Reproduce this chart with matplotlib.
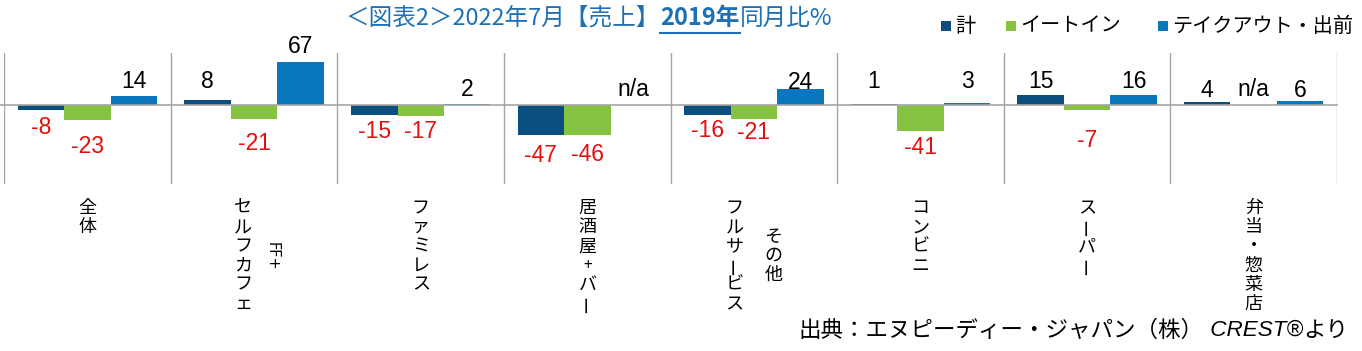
import numpy as np
import matplotlib
matplotlib.use("Agg")
import matplotlib.pyplot as plt
from matplotlib.patches import Rectangle
from matplotlib.lines import Line2D

plt.rcParams['font.family'] = ['Noto Sans CJK JP', 'DejaVu Sans']

# ---------------- data ----------------
categories = ["全体", "FF+セルフカフェ", "ファミレス", "居酒屋+バー",
              "その他フルサービス", "コンビニ", "スーパー", "弁当・惣菜店"]
# label columns as drawn (left column first); second column is the small side note
label_main = ["全体", "セルフカフェ", "ファミレス", "居酒屋+バー",
              "フルサービス", "コンビニ", "スーパー", "弁当・惣菜店"]
label_side = ["", "FF+", "", "", "その他", "", "", ""]

series_names = ["計", "イートイン", "テイクアウト・出前"]
total = [-8, 8, -15, -47, -16, 1, 15, 4]
eatin = [-23, -21, -17, -46, -21, -41, -7, np.nan]
takeout = [14, 67, 2, np.nan, 24, 3, 16, 6]

title_parts = ["＜図表2＞2022年7月【売上】", "2019年", "同月比%"]
source_parts = ["出典：エヌピーディー・ジャパン（株）", " CREST®", "より"]

# ---------------- style ----------------
colors = ["#0B4F7F", "#86C341", "#0A77BD"]
title_color = "#1E70B5"
neg_color = "#E31010"
grid_color = "#A6A6A6"
num_family = ['Liberation Sans', 'DejaVu Sans']
num_fs = 16.5
# label distance (px) from bar end to label centre, as placed in the original
lab_px = [
    [17, 18, 17, 20, 15, 23, 14, 12],
    [27, 24.5, 16, 20, 14, 16.5, 30.5, 15],
    [14, 15, 14, 15, 7, 21.5, 13, 11],
]

W, H = 1362, 351
fig = plt.figure(figsize=(W / 100, H / 100), dpi=100)
ax = fig.add_axes([4.3 / W, 1 - 184 / H, (1337 - 4.3) / W, 131 / H])
ax.set_xlim(-0.5, len(categories) - 0.5)
ax.set_ylim(-122.3, 80.5)
ax.axis('off')

x = np.arange(len(categories))
bw = 0.279
data = [total, eatin, takeout]
for k, vals in enumerate(data):
    v = np.array(vals, dtype=float)
    xs = x + (k - 1) * bw
    ax.bar(xs, np.nan_to_num(v), width=bw, color=colors[k], zorder=3,
           linewidth=0)
    for i, val in enumerate(v):
        off = lab_px[k][i] * 0.72
        if np.isnan(val):
            ax.annotate("n/a", xy=(xs[i], 0), xytext=(0, off),
                        textcoords='offset points', ha='center', va='center',
                        fontsize=num_fs, family=num_family, color='black', zorder=5)
        elif val >= 0:
            ax.annotate(f"{int(val)}", xy=(xs[i], val), xytext=(0, off),
                        textcoords='offset points', ha='center', va='center',
                        fontsize=num_fs, family=num_family, color='black', zorder=5)
        else:
            ax.annotate(f"{int(val)}", xy=(xs[i], val), xytext=(0, -off),
                        textcoords='offset points', ha='center', va='center',
                        fontsize=num_fs, family=num_family, color=neg_color, zorder=5)

# gridlines between categories and zero line
for b in np.arange(-0.5, len(categories), 1.0):
    ax.axvline(b, color=grid_color, lw=1.0, zorder=1)
ax.axhline(0, color=grid_color, lw=1.2, zorder=4, xmin=-0.004, clip_on=False)

# vertical stacked category labels
step_pt = 19.2 * 0.72
first_pt = -24 * 0.72
for i in range(len(categories)):
    main = label_main[i]
    side = label_side[i]
    if side == "":
        dx_main = 0
    elif side == "FF+":
        dx_main = -11 * 0.72
    else:
        dx_main = -19.5 * 0.72
    for j, ch in enumerate(main):
        rot = 90 if ch == "ー" else 0
        fs = 11 if ch == "+" else 13
        ax.annotate(ch, xy=(x[i], 0), xycoords=ax.get_xaxis_transform(),
                    xytext=(dx_main, first_pt - j * step_pt), textcoords='offset points',
                    ha='center', va='center', rotation=rot, rotation_mode='anchor',
                    fontsize=fs, color='black', annotation_clip=False)
    n = len(main)
    mid = first_pt - (n - 1) / 2 * step_pt
    if side == "FF+":
        ax.annotate(side, xy=(x[i], 0), xycoords=ax.get_xaxis_transform(),
                    xytext=(18 * 0.72, mid), textcoords='offset points',
                    ha='center', va='center', rotation=-90, rotation_mode='anchor',
                    fontsize=10.5, family=['DejaVu Sans'], color='black',
                    annotation_clip=False)
    elif side:
        m = len(side)
        for j, ch in enumerate(side):
            yy = mid + ((m - 1) / 2 - j) * step_pt
            ax.annotate(ch, xy=(x[i], 0), xycoords=ax.get_xaxis_transform(),
                        xytext=(19.5 * 0.72, yy), textcoords='offset points',
                        ha='center', va='center', fontsize=13, color='black',
                        annotation_clip=False)

renderer = fig.canvas.get_renderer()


def seq_text(parts, styles, x0, yc, align='left'):
    arts = []
    for s, st in zip(parts, styles):
        t = fig.text(0, yc / H, s, ha='left', va='center', **st)
        arts.append(t)
    widths = [a.get_window_extent(renderer).width for a in arts]
    tot = sum(widths)
    cur = x0 if align == 'left' else x0 - tot
    for a, w in zip(arts, widths):
        a.set_x(cur / W)
        cur += w
    return arts


# title with bold underlined part
tstyles = [dict(fontsize=17, color=title_color),
           dict(fontsize=17, color=title_color, fontweight='bold'),
           dict(fontsize=17, color=title_color)]
tarts = seq_text(title_parts, tstyles, 346, H - 18)
bb = tarts[1].get_window_extent(renderer)
fig.add_artist(Line2D([bb.x0 / W, bb.x1 / W], [(H - 33) / H, (H - 33) / H],
                      transform=fig.transFigure, color=title_color, lw=1.5))

# legend
leg_x = [941, 1006, 1158]
for k, name in enumerate(series_names):
    fig.add_artist(Rectangle((leg_x[k] / W, (H - 31) / H), 10 / W, 10 / H,
                             transform=fig.transFigure, color=colors[k], lw=0))
    fig.text((leg_x[k] + 14) / W, (H - 26) / H, name, ha='left', va='center',
             fontsize=14.5, color='black')

# source
sstyles = [dict(fontsize=16.2, color='black'),
           dict(fontsize=16.2, color='black', style='italic',
                family=['Liberation Sans', 'DejaVu Sans']),
           dict(fontsize=16.2, color='black')]
seq_text(source_parts, sstyles, 1348, H - 330, align='right')

fig.savefig("out.png", dpi=100)
